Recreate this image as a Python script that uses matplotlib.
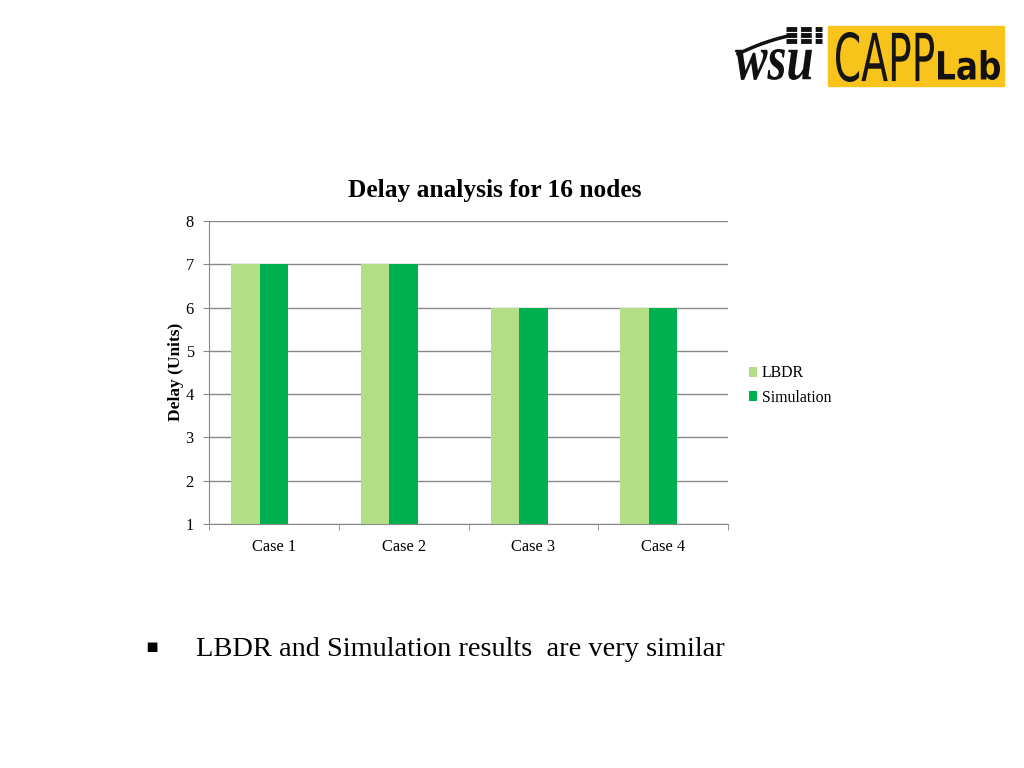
import matplotlib.pyplot as plt
import matplotlib.patches as patches
from matplotlib.textpath import TextPath
from matplotlib.font_manager import FontProperties
from matplotlib.transforms import Affine2D, IdentityTransform
import numpy as np

plt.rcParams['font.family'] = ['Liberation Serif', 'DejaVu Serif']

cases = ['Case 1', 'Case 2', 'Case 3', 'Case 4']
lbdr = [7, 7, 6, 6]
simulation = [7, 7, 6, 6]
yticks = [1, 2, 3, 4, 5, 6, 7, 8]

c_lbdr = '#B2DE86'
c_sim = '#00B050'
c_grid = '#888888'

W, H = 1024, 768
fig = plt.figure(figsize=(10.24, 7.68), dpi=100)
ax = fig.add_axes([209/W, 1 - 524/H, 519/W, 303/H])

x = np.arange(len(cases))
w = 0.22
base = yticks[0]
# excel layout: room for a third (empty) series, so bars sit left of centre
ax.bar(x - w, np.array(lbdr) - base, w, bottom=base, color=c_lbdr, label='LBDR', zorder=3)
ax.bar(x, np.array(simulation) - base, w, bottom=base, color=c_sim, label='Simulation', zorder=3)

ax.set_xlim(-0.5, len(cases) - 0.5)
ax.set_ylim(yticks[0], yticks[-1])
ax.set_yticks(yticks)
ax.set_xticks(x)
ax.set_xticklabels(cases)
ax.set_xticks(np.arange(len(cases) + 1) - 0.5, minor=True)
ax.tick_params(axis='x', which='major', length=0, pad=11, labelsize=11.8)
ax.tick_params(axis='x', which='minor', length=4, color=c_grid, direction='out')
ax.tick_params(axis='y', length=4, color=c_grid, pad=7, labelsize=11.8)
ax.yaxis.grid(True, color=c_grid, linewidth=1, zorder=0)
for s in ['top', 'right']:
    ax.spines[s].set_visible(False)
for s in ['left', 'bottom']:
    ax.spines[s].set_color(c_grid)

fig.text(494.5/W, 1 - 191/H, 'Delay analysis for 16 nodes', fontsize=18.3,
         fontweight='bold', ha='center', va='center')
fig.text(176/W, 1 - 372/H, 'Delay (Units)', fontsize=12.5, fontweight='bold',
         rotation=90, ha='center', va='center')

leg = ax.legend(loc='center left', bbox_to_anchor=(1.0, 0.457), frameon=False,
                fontsize=11.4, handlelength=0.55, handleheight=0.55, handletextpad=0.3,
                labelspacing=0.52, borderaxespad=0.9)

# bullet text
fig.text(152/W, 1 - 647/H, '\u25aa', fontsize=14, ha='center', va='center', family='DejaVu Sans')
fig.text(196/W, 1 - 649/H, 'LBDR and Simulation results  are very similar',
         fontsize=20.4, ha='left', va='center')


# logo
def path_in_box(text, box, prop, color):
    # box = (x0, y0, x1, y1) in image pixels from top-left
    tp = TextPath((0, 0), text, size=50, prop=prop)
    ext = tp.get_extents()
    x0, y0, x1, y1 = box
    sx = (x1 - x0) / ext.width
    sy = (y1 - y0) / ext.height
    tr = Affine2D().translate(-ext.x0, -ext.y0).scale(sx, sy).translate(x0, H - y1)
    p = patches.PathPatch(tr.transform_path(tp), facecolor=color, edgecolor='none',
                          transform=IdentityTransform(), zorder=3)
    fig.patches.append(p)


fig.patches.append(patches.Rectangle((828, H - 86), 176, 60, transform=IdentityTransform(),
                                     color='#F8C31A', zorder=1))
path_in_box('CAPP', (836, 32, 934, 82), FontProperties(family='DejaVu Sans', weight='normal'), '#151515')
path_in_box('Lab', (938, 50, 1000, 80), FontProperties(family='DejaVu Sans', weight='bold'), '#111111')
path_in_box('wsu', (735, 49, 812, 80), FontProperties(family='Liberation Serif', weight='bold', style='italic'), '#111111')

# wheat on top of the wsu mark
t = np.linspace(0, 1, 30)
fig.lines.append(plt.Line2D(738 + 55 * t, H - (54 - 19 * t - 8 * t * (1 - t)),
                            transform=IdentityTransform(), color='#111111', lw=2.5))
for yy in [29, 35, 41]:
    fig.lines.append(plt.Line2D([786, 822], [H - yy, H - yy], transform=IdentityTransform(),
                                color='#111111', lw=3.5, dashes=(2.2, 0.8)))

fig.savefig('out.png', dpi=100)
